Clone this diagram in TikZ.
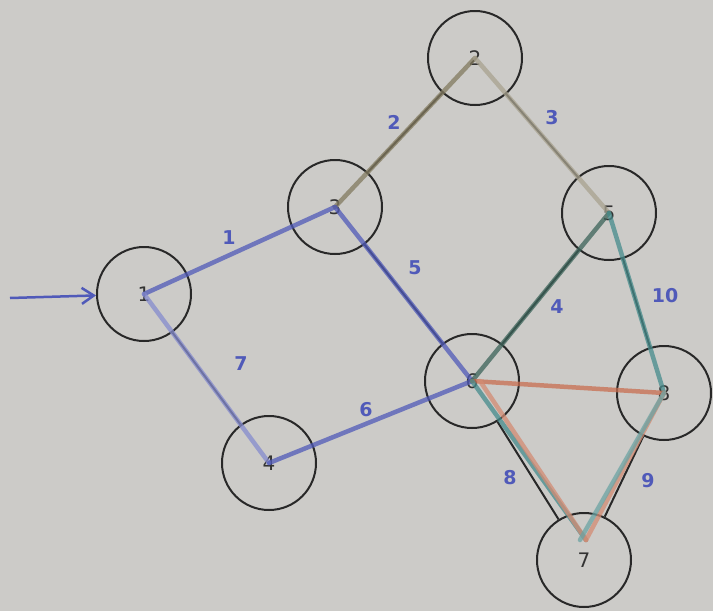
\documentclass[tikz,border=0pt]{standalone}
\usepackage{fontspec}
\setmainfont{DejaVu Sans}
\usetikzlibrary{arrows.meta}
\definecolor{paper}{RGB}{204,203,200}
\definecolor{inkblue}{RGB}{80,90,185}
\definecolor{olive}{RGB}{130,122,95}
\definecolor{tealg}{RGB}{70,140,140}
\definecolor{darkteal}{RGB}{60,100,90}
\definecolor{orng}{RGB}{200,110,80}
\definecolor{pencil}{RGB}{40,40,40}
\tikzset{
  vert/.style={circle,draw=pencil,line width=2pt,minimum size=94pt,inner sep=0pt,
    font=\fontsize{20}{20}\selectfont,text=black!80},
  penline/.style={draw=pencil,line width=2pt},
  hl/.style={line width=4.5pt,opacity=0.75,line cap=round},
  wlab/.style={text=inkblue,font=\bfseries\fontsize{19}{19}\selectfont}
}
\begin{document}
\begin{tikzpicture}[x=1pt,y=-1pt]
\fill[paper] (0,0) rectangle (713,611);
\useasboundingbox (0,0) rectangle (713,611);
% nodes
\node[vert] (n1) at (144,294) {1};
\node[vert] (n2) at (475,58) {2};
\node[vert] (n3) at (335,207) {3};
\node[vert] (n4) at (269,463) {4};
\node[vert] (n5) at (609,213) {5};
\node[vert] (n6) at (472,381) {6};
\node[vert] (n7) at (584,560) {7};
\node[vert] (n8) at (664,393) {8};
\coordinate (start) at (10,298);
\coordinate (a7) at (586,540);
% pencil lines outside circles
\draw[penline] (n1) -- (n4);
\draw[penline] (n3) -- (n2);
\draw[penline] (n2) -- (n5);
\draw[penline] (n3) -- (n6);
\draw[penline] (n5) -- (n6);
\draw[penline] (n5) -- (n8);
\draw[penline] (n6) -- (n7);
\draw[penline] (n8) -- (n7);
% coloured highlights
\draw[hl,inkblue] (n1.center) -- (n3.center);
\draw[hl,inkblue!70] (n1.center) -- (n4.center);
\draw[hl,olive] (n3.center) -- (n2.center);
\draw[hl,olive!70] (n2.center) -- (n5.center);
\draw[hl,inkblue] (n3.center) -- (n6.center);
\draw[hl,inkblue] (n4.center) -- (n6.center);
\draw[hl,darkteal] (n6.center) -- (n5.center);
\draw[hl,tealg] (n5.center) -- (n8.center);
\draw[hl,orng] (n6.center) -- (n8.center);
\draw[hl,tealg] (n6.center) -- (a7);
\draw[hl,orng!80] ([xshift=8pt]n6.center) -- (a7);
\draw[hl,orng!80] (n8.center) -- (a7);
\draw[hl,tealg!80] ([xshift=-6pt]a7) -- (n8.center);
% entry arrow
\draw[inkblue,line width=2.5pt,-{Straight Barb[length=12pt,width=16pt]}] (start) -- (n1);
% weights
\node[wlab] (w1) at (229,238) {1};
\node[wlab] (w7) at (241,364) {7};
\node[wlab] (w2) at (394,122) {2};
\node[wlab] (w3) at (552,118) {3};
\node[wlab] (w5) at (415,268) {5};
\node[wlab] (w4) at (557,307) {4};
\node[wlab] (w10) at (665,296) {10};
\node[wlab] (w6) at (366,410) {6};
\node[wlab] (w8) at (510,478) {8};
\node[wlab] (w9) at (648,481) {9};
\end{tikzpicture}
\end{document}
